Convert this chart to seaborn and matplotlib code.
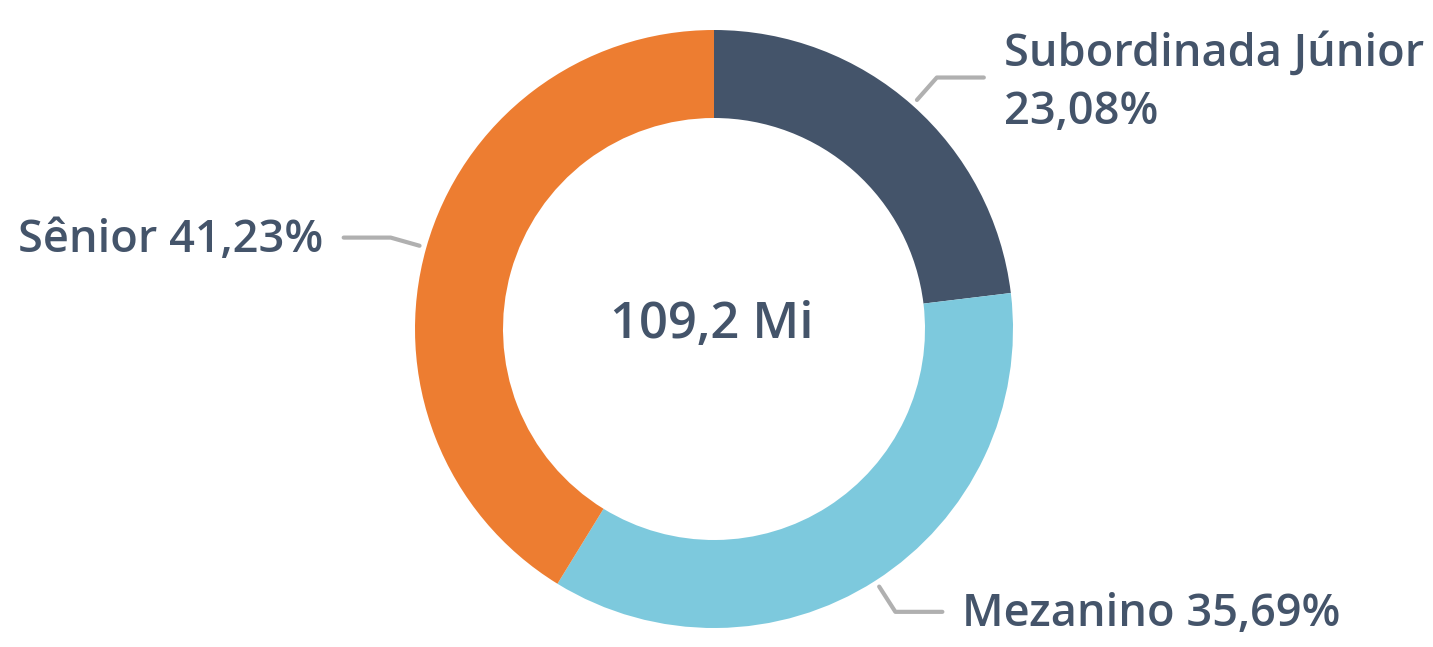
import numpy as np
import matplotlib
matplotlib.use("Agg")
import matplotlib.pyplot as plt
import seaborn as sns

categories = ["Subordinada Júnior", "Mezanino", "Sênior"]
shares = [23.08, 35.69, 41.23]
share_labels = ["23,08%", "35,69%", "41,23%"]
total_label = "109,2 Mi"

colors = ["#44546A", "#7DC9DD", "#ED7D31"]
text_color = "#44546A"
line_color = "#B0B0B0"

sns.set_theme(style="white")
plt.rcParams["font.family"] = ["Open Sans", "DejaVu Sans"]

W, H = 1433, 647
fig = plt.figure(figsize=(W / 100, H / 100), dpi=100)
ax = fig.add_axes([0, 0, 1, 1])

cx, cy, r = 714, H - 329, 299
wedges, _ = ax.pie(
    shares, colors=colors, startangle=90, counterclock=False,
    center=(cx, cy), radius=r, frame=True,
    wedgeprops=dict(width=88, linewidth=0),
)
ax.set_xlim(0, W)
ax.set_ylim(0, H)
ax.set_aspect("equal")
ax.axis("off")

ax.text(cx - 2, cy + 4, total_label, ha="center", va="center",
        fontsize=36.5, color=text_color, fontweight="semibold")

for w, cat, lab in zip(wedges, categories, share_labels):
    ang = np.deg2rad((w.theta1 + w.theta2) / 2)
    x0, y0 = cx + 306 * np.cos(ang), cy + 306 * np.sin(ang)
    x1, y1 = cx + 336 * np.cos(ang), cy + 336 * np.sin(ang)
    side = 1 if np.cos(ang) > 0 else -1
    x2 = x1 + side * 47
    ax.plot([x0, x1, x2], [y0, y1, y1], color=line_color, lw=3,
            solid_capstyle="round", solid_joinstyle="round")
    if cat == "Subordinada Júnior":
        txt = f"{cat}\n{lab}"
        dy = -6
    else:
        txt = f"{cat} {lab}"
        dy = -3
    ax.text(x2 + side * 20, y1 + dy, txt, ha="left" if side > 0 else "right",
            va="center", fontsize=32.5, color=text_color,
            fontweight="semibold", linespacing=1.4)

fig.savefig("out.png", dpi=100, facecolor="white")
